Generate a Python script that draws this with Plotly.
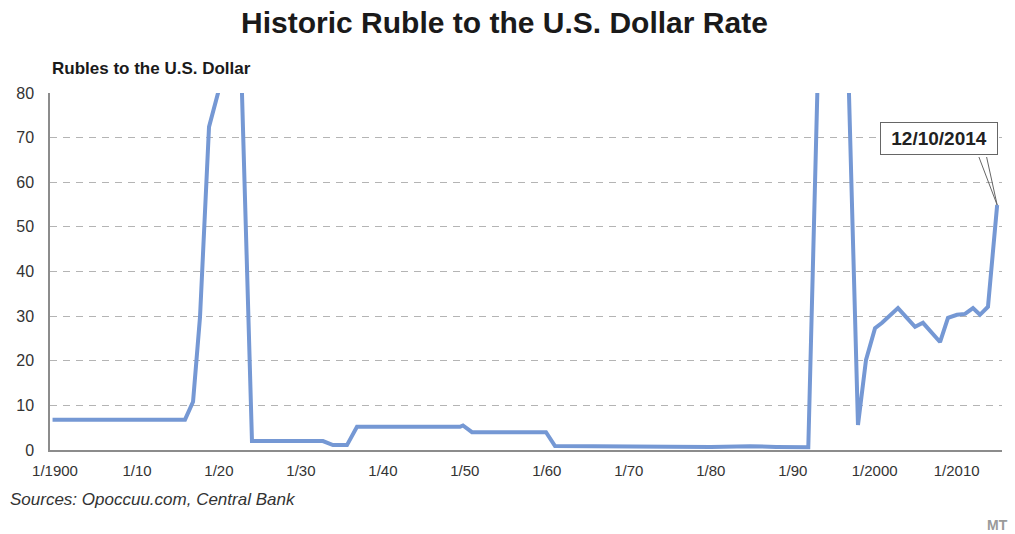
import plotly.graph_objects as go

# Data (year as decimal, rubles per U.S. dollar); values above 80 run off the chart
years = [1899.7, 1915.86, 1916.84, 1917.69, 1918.79, 1919.89, 1920.6, 1922.2, 1922.81,
         1924.03, 1932.69, 1933.91, 1935.62, 1936.84, 1949.41, 1949.77, 1950.87,
         1959.9, 1961.0, 1970.0, 1975.0, 1980.0, 1984.8, 1988.0, 1991.9,
         1993.0, 1994.0, 1996.2, 1996.86,
         1997.96, 1998.94, 2000.04, 2000.9, 2002.84, 2004.92, 2005.89, 2007.97,
         2008.94, 2010.04, 2011.02, 2011.99, 2012.84, 2013.82, 2014.94]
rates = [6.8, 6.8, 10.8, 29.8, 72.4, 80.0, 120.0, 120.0, 80.0,
         2.0, 2.0, 1.1, 1.1, 5.2, 5.2, 5.5, 4.0,
         4.0, 0.9, 0.9, 0.75, 0.65, 0.85, 0.7, 0.6,
         80.0, 120.0, 120.0, 80.0,
         5.6, 20.2, 27.3, 28.5, 31.8, 27.6, 28.5, 24.2,
         29.6, 30.3, 30.5, 31.8, 30.3, 32.1, 54.9]

tick_years = [1900, 1910, 1920, 1930, 1940, 1950, 1960, 1970, 1980, 1990, 2000, 2010]
tick_labels = ["1/1900", "1/10", "1/20", "1/30", "1/40", "1/50", "1/60", "1/70",
               "1/80", "1/90", "1/2000", "1/2010"]
y_ticks = [0, 10, 20, 30, 40, 50, 60, 70, 80]

callout_label = "12/10/2014"

fig = go.Figure()
fig.add_trace(go.Scatter(
    x=years, y=rates, mode="lines",
    line=dict(color="#7598d4", width=4, shape="linear"),
    hoverinfo="skip", showlegend=False,
))

font_main = "Liberation Sans, Arial, sans-serif"

annotations = [
    dict(text="<b>Rubles to the U.S. Dollar</b>", xref="paper", yref="paper",
         x=0.0, y=(450 - 68) / 357, xanchor="left", yanchor="middle",
         showarrow=False, font=dict(family=font_main, size=17, color="#1a1a1a")),
    dict(text="<i>Sources: Opoccuu.com, Central Bank</i>", xref="paper", yref="paper",
         x=(8 - 50) / 952, y=(450 - 499) / 357, xanchor="left", yanchor="middle",
         showarrow=False, font=dict(family=font_main, size=17, color="#333333")),
    dict(text="<b>MT</b>", xref="paper", yref="paper",
         x=(1010 - 50) / 952, y=(450 - 525) / 357, xanchor="right", yanchor="middle",
         showarrow=False, font=dict(family=font_main, size=14, color="#9a9a9a")),
]
# callout wedge: two thin lines from the box to the last point
for dx in (-19, -11):
    annotations.append(dict(
        text=" ", xref="x", yref="y", x=years[-1], y=rates[-1],
        ax=dx, ay=-50, showarrow=True, arrowhead=0, arrowwidth=1,
        arrowcolor="#666666", font=dict(size=1)))
annotations.append(dict(
    text="&nbsp;<b>" + callout_label + "</b>&nbsp;", xref="x", yref="y",
    x=years[-1], y=rates[-1], xshift=-58, yshift=67,
    xanchor="center", yanchor="middle", showarrow=False,
    font=dict(family=font_main, size=19, color="#222222"),
    bgcolor="white", bordercolor="#666666", borderwidth=1, borderpad=5))

fig.update_layout(
    width=1015, height=534,
    margin=dict(l=50, r=13, t=93, b=84),
    paper_bgcolor="white", plot_bgcolor="white",
    title=dict(
        text="<b>Historic Ruble to the U.S. Dollar Rate</b>",
        x=0.497, xanchor="center", xref="container",
        y=1 - 22 / 534, yanchor="middle", yref="container",
        font=dict(family="Liberation Sans Narrow, Liberation Sans, Arial", size=30, color="#1a1a1a"),
    ),
    xaxis=dict(
        range=[1899.39, 2015.53],
        tickvals=tick_years, ticktext=tick_labels,
        showgrid=False, zeroline=False,
        showline=True, linecolor="#8c8c8c", linewidth=2,
        ticks="", tickfont=dict(family=font_main, size=15, color="#333333"),
        ticklabelstandoff=6,
    ),
    yaxis=dict(
        range=[0, 80],
        tickvals=y_ticks,
        showgrid=True, gridcolor="#b4b4b4", gridwidth=1, griddash="7px,6px",
        zeroline=False,
        showline=True, linecolor="#8c8c8c", linewidth=1.5,
        ticks="", tickfont=dict(family=font_main, size=16, color="#333333"),
        ticklabelstandoff=11,
    ),
    annotations=annotations,
)

fig.write_html("out.html")
